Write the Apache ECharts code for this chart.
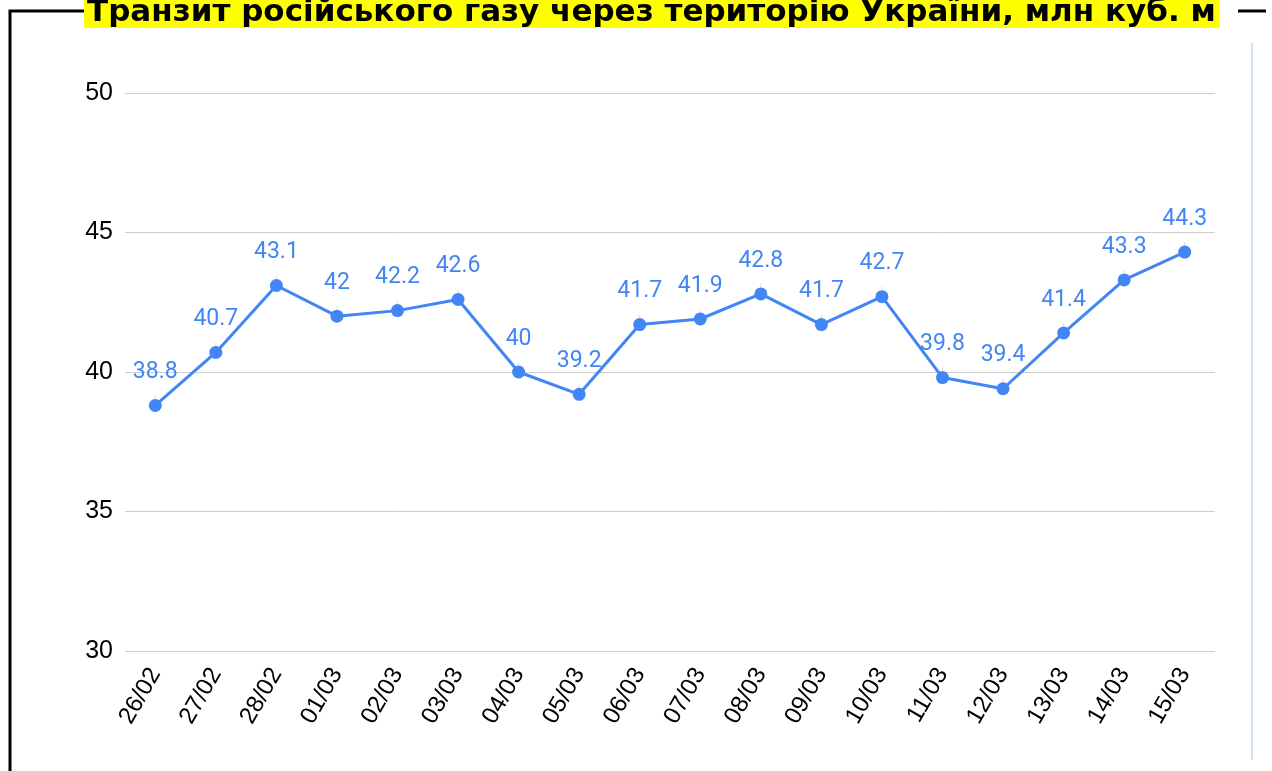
<!DOCTYPE html>
<html>
<head>
<meta charset="utf-8">
<script src="https://cdn.jsdelivr.net/npm/echarts@6/dist/echarts.min.js"></script>
<style>
  html, body { margin: 0; padding: 0; background: #fff; }
  #chart { width: 1272px; height: 771px; }
</style>
</head>
<body>
<div id="chart"></div>
<script>
// === Datos ===================================================================
const TITLE = 'Транзит російського газу через територію України, млн куб. м';
const days = ['26/02','27/02','28/02','01/03','02/03','03/03','04/03','05/03','06/03',
              '07/03','08/03','09/03','10/03','11/03','12/03','13/03','14/03','15/03'];
const transit = [38.8, 40.7, 43.1, 42, 42.2, 42.6, 40, 39.2, 41.7,
                 41.9, 42.8, 41.7, 42.7, 39.8, 39.4, 41.4, 43.3, 44.3];
const yTicks = [30, 35, 40, 45, 50];

// === Paleta ==================================================================
const blue = '#4285f4', grid = '#cccccc', ink = '#000';
const sans = '"Liberation Sans", Arial, sans-serif';

const chart = echarts.init(document.getElementById('chart'));
chart.setOption({
  animation: false,
  grid: { left: 125, right: 57, top: 93, bottom: 120 },
  graphic: [
    // marco negro
    { type: 'polyline', silent: true,
      shape: { points: [[10, 771], [10, 11], [84, 11]] },
      style: { stroke: ink, lineWidth: 3, fill: null } },
    { type: 'line', silent: true,
      shape: { x1: 1238, y1: 11, x2: 1266, y2: 11 },
      style: { stroke: ink, lineWidth: 3 } },
    // línea azul derecha
    { type: 'line', silent: true,
      shape: { x1: 1252, y1: 43, x2: 1252, y2: 760 },
      style: { stroke: '#cfe2f3', lineWidth: 2 } },
    // título
    { type: 'text', left: 84, top: -3, z: 10,
      style: {
        text: TITLE, fill: ink,
        font: 'bold 31px "DejaVu Sans", sans-serif',
        backgroundColor: '#ffff00', padding: [0, 4, 0, 3]
      } }
  ],
  xAxis: {
    type: 'category',
    data: days,
    boundaryGap: true,
    axisLine: { show: false },
    axisTick: { show: false },
    axisLabel: {
      color: ink, fontSize: 24, rotate: 60, interval: 0, margin: 19,
      fontFamily: sans
    }
  },
  yAxis: {
    type: 'value',
    min: yTicks[0], max: yTicks[yTicks.length - 1], interval: 5,
    axisLine: { show: false },
    axisTick: { show: false },
    axisLabel: {
      color: ink, fontSize: 25, margin: 12,
      fontFamily: sans
    },
    splitLine: { lineStyle: { color: grid, width: 1 } }
  },
  series: [{
    type: 'line',
    data: transit,
    symbol: 'circle', symbolSize: 13,
    itemStyle: { color: blue },
    lineStyle: { color: blue, width: 3 },
    label: {
      show: true, position: 'top', distance: 15,
      color: blue, fontSize: 23,
      fontFamily: 'Roboto, sans-serif'
    },
    labelLine: { show: true, lineStyle: { color: '#dddddd', width: 1 } }
  }]
});
</script>
</body>
</html>
